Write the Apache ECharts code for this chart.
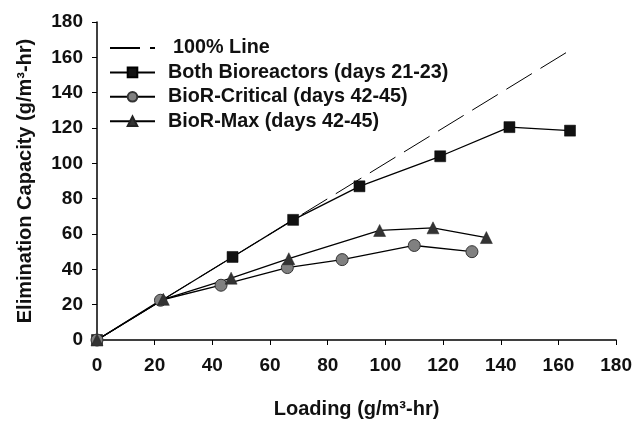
<!DOCTYPE html>
<html>
<head>
<meta charset="utf-8">
<title>Elimination Capacity vs Loading</title>
<script src="https://cdn.jsdelivr.net/npm/echarts@6/dist/echarts.min.js"></script>
<style>
  html, body { margin: 0; padding: 0; background: #fff; }
  #chart { width: 635px; height: 424px; }
</style>
</head>
<body>
<div id="chart"></div>
<script>
// values (g/m3-hr)
const lineLoading = [0, 165]
const lineEc = [0, 165]
const bothLoading = [0, 47, 68, 91, 119, 143, 164]
const bothEc = [0, 47, 68, 87, 104, 120.5, 118.5]
const criticalLoading = [0, 22, 43, 66, 85, 110, 130]
const criticalEc = [0, 22.5, 31, 41, 45.5, 53.5, 50]
const maxLoading = [0, 23, 46.5, 66.5, 98, 116.5, 135]
const maxEc = [0, 23, 35, 46, 62, 63.5, 58]
const seriesNames = ['100% Line', 'Both Bioreactors (days 21-23)', 'BioR-Critical (days 42-45)', 'BioR-Max (days 42-45)']

const font = 'Liberation Sans, Arial, sans-serif'

function pairs (xs, ys) {
  return xs.map((x, i) => [x, ys[i]])
}

const chart = echarts.init(document.getElementById('chart'))

const axisCommon = {
  type: 'value',
  min: 0,
  max: 180,
  interval: 20,
  splitLine: { show: false },
  axisLine: { show: true, lineStyle: { color: '#000', width: 1.5 } },
  axisTick: { show: true, inside: false, length: 5, lineStyle: { color: '#000', width: 1 } },
  axisLabel: { color: '#111', fontFamily: font, fontWeight: 'bold', fontSize: 19 },
  nameLocation: 'middle',
  nameTextStyle: { color: '#111', fontFamily: font, fontWeight: 'bold', fontSize: 20 }
}

chart.setOption({
  animation: false,
  grid: { left: 97, top: 22, width: 521, height: 324, containLabel: false },
  legend: {
    orient: 'vertical',
    left: 109,
    top: 38,
    padding: 0,
    itemWidth: 45,
    itemHeight: 12,
    itemGap: 4.4,
    textStyle: { color: '#111', fontFamily: font, fontWeight: 'bold', fontSize: 19.8, padding: [0, 0, 0, 8] },
    data: [
      { name: seriesNames[0], itemStyle: { opacity: 0 }, textStyle: { padding: [0, 0, 0, 13] } },
      seriesNames[1],
      seriesNames[2],
      seriesNames[3]
    ]
  },
  xAxis: Object.assign({}, axisCommon, {
    name: 'Loading (g/m³-hr)',
    nameGap: 59,
    axisLabel: Object.assign({}, axisCommon.axisLabel, { margin: 16 })
  }),
  yAxis: Object.assign({}, axisCommon, {
    name: 'Elimination Capacity (g/m³-hr)',
    nameGap: 62,
    axisLabel: Object.assign({}, axisCommon.axisLabel, { margin: 14 })
  }),
  series: [
    {
      name: seriesNames[0],
      type: 'line',
      data: pairs(lineLoading, lineEc),
      showSymbol: false,
      symbol: 'none',
      lineStyle: { color: '#000', width: 1, type: [30, 10] },
      itemStyle: { color: '#000' }
    },
    {
      name: seriesNames[1],
      type: 'line',
      data: pairs(bothLoading, bothEc),
      symbol: 'rect',
      symbolSize: 11,
      lineStyle: { color: '#000', width: 1.3 },
      itemStyle: { color: '#111', borderColor: '#000', borderWidth: 0.5 }
    },
    {
      name: seriesNames[2],
      type: 'line',
      data: pairs(criticalLoading, criticalEc),
      symbol: 'circle',
      symbolSize: 12,
      lineStyle: { color: '#000', width: 1.3 },
      itemStyle: { color: '#808080', borderColor: '#333', borderWidth: 1 }
    },
    {
      name: seriesNames[3],
      type: 'line',
      data: pairs(maxLoading, maxEc),
      symbol: 'triangle',
      symbolSize: 12,
      lineStyle: { color: '#000', width: 1.3 },
      itemStyle: { color: '#333', borderColor: '#222', borderWidth: 0.5 }
    }
  ]
})
</script>
</body>
</html>
